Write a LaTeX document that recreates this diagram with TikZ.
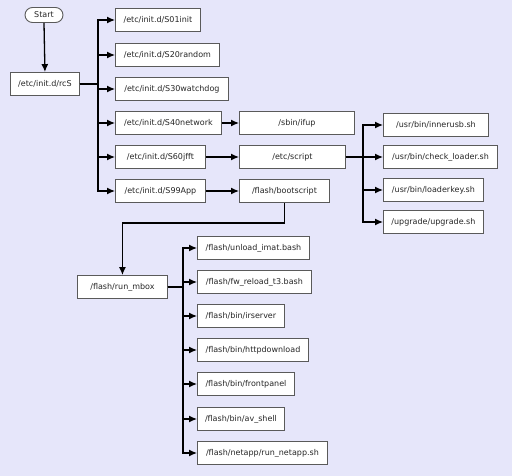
\documentclass[tikz,border=0pt]{standalone}
\usepackage{fontspec}
\setmainfont{DejaVu Sans}
\usetikzlibrary{arrows.meta}

\definecolor{fondo}{RGB}{230,230,250}
\definecolor{borde}{RGB}{90,90,90}

\tikzset{
    caja/.style={draw=borde,line width=0.9pt,fill=white,anchor=west,inner sep=0pt,
        minimum height=23pt,align=center,font=\fontsize{8}{10}\selectfont,text=black!85},
    inicio/.style={caja,anchor=center,rounded corners=7.5pt,minimum height=15pt},
    flecha/.style={line width=1.3pt,-{Latex[length=8pt,width=7pt]}},
}

\begin{document}
\begin{tikzpicture}[x=1pt,y=-1pt]
        % Canvas
        \fill[fondo] (0,0) rectangle (512,476);
        \useasboundingbox (0,0) rectangle (512,476);
        % Start and rcS
        \node[inicio,minimum width=38pt] (start) at (44,15) {Start};
        \node[caja,minimum width=69pt] (rcs) at (10,84) {/etc/init.d/rcS};
        \draw[flecha] (start.south) -- (rcs.north);
        % Init scripts
        \foreach \nombre/\y/\w/\texto in {s01/20/85/S01init,s20/55/104/S20random,
            s30/89/113/S30watchdog,s40/123/106/S40network,s60/157/90/S60jfft,s99/191/90/S99App}{
            \node[caja,minimum width=\w pt] (\nombre) at (115,\y) {/etc/init.d/\texto};
            \draw[flecha] (rcs.east) -- ++(18,0) |- (\nombre.west);
        }
        % Second column
        \node[caja,minimum width=115pt] (ifup) at (239,123) {/sbin/ifup};
        \node[caja,minimum width=106pt] (script) at (239,157) {/etc/script};
        \node[caja,minimum width=90pt] (boot) at (239,191) {/flash/bootscript};
        \draw[flecha] (s40.east) -- (ifup.west);
        \draw[flecha] (s60.east) -- (script.west);
        \draw[flecha] (s99.east) -- (boot.west);
        % Called from /etc/script
        \foreach \nombre/\y/\w/\texto in {inner/125/105/{usr/bin/innerusb.sh},
            check/157/114/{usr/bin/check\_loader.sh},lkey/190/100/{usr/bin/loaderkey.sh},
            upg/222/100/{upgrade/upgrade.sh}}{
            \node[caja,minimum width=\w pt] (\nombre) at (383,\y) {/\texto};
            \draw[flecha] (script.east) -- ++(17,0) |- (\nombre.west);
        }
        % run_mbox
        \node[caja,minimum width=90pt] (mbox) at (77,287) {/flash/run\_mbox};
        \draw[flecha] (boot.south) -- ++(0,20) -| (mbox.north);
        \foreach \nombre/\y/\w/\texto in {unload/248/112/{unload\_imat.bash},
            fwrel/282/114/{fw\_reload\_t3.bash},irs/316/87/{bin/irserver},
            httpd/350/111/{bin/httpdownload},front/384/97/{bin/frontpanel},
            avsh/419/87/{bin/av\_shell},netapp/453/130/{netapp/run\_netapp.sh}}{
            \node[caja,minimum width=\w pt] (\nombre) at (197,\y) {/flash/\texto};
            \draw[flecha] (mbox.east) -- ++(15,0) |- (\nombre.west);
        }
        %
    \end{tikzpicture}
\end{document}
